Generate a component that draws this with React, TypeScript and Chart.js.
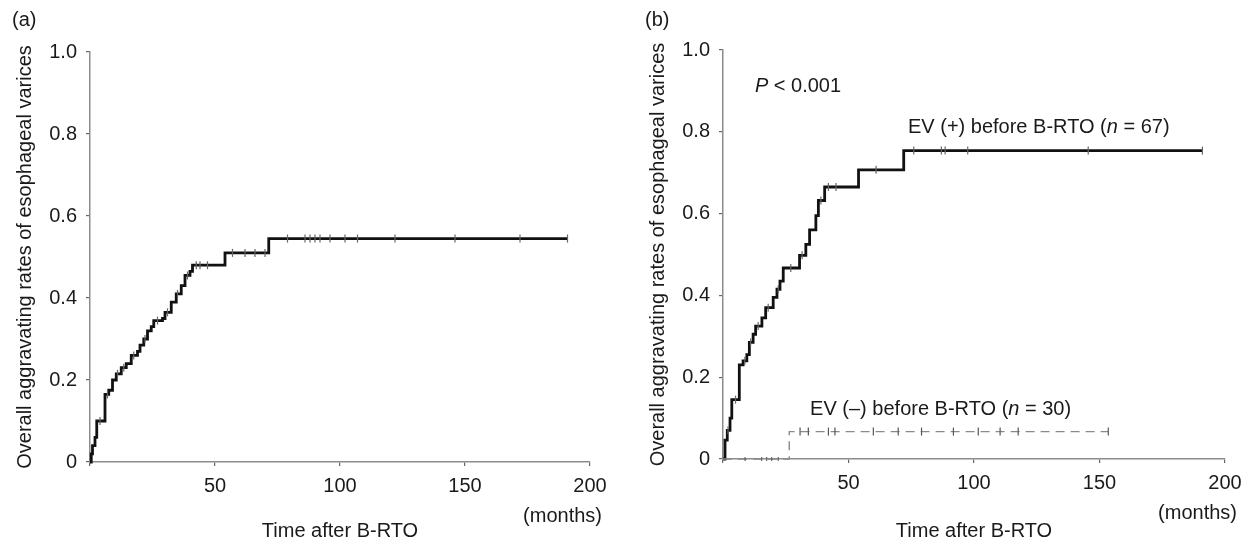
import React, { useEffect, useRef } from 'react';
import { Chart, registerables } from 'chart.js';

Chart.register(...registerables);

const FONT = '"Liberation Sans", Arial, Helvetica, sans-serif';
const FS = 20;

// ---------- axis ticks ----------
const yTickValues = [0, 0.2, 0.4, 0.6, 0.8, 1.0];
const yTickLabels = ['0', '0.2', '0.4', '0.6', '0.8', '1.0'];
const xTickValues = [0, 50, 100, 150, 200];
const xTickLabels = ['', '50', '100', '150', '200'];

// ---------- panel (a): all patients ----------
const aTimes = [0, 0.5, 1, 2, 2.7, 6, 7.5, 9, 10.5, 12.5, 14.5, 16.5, 19, 20, 21.5, 23, 24.5, 25.5, 29, 30, 32.5, 34.5, 36.5, 38, 40, 41, 54, 71.5, 191];
const aRates = [0, 0.02, 0.04, 0.06, 0.1, 0.165, 0.175, 0.2, 0.215, 0.23, 0.24, 0.26, 0.27, 0.285, 0.3, 0.32, 0.33, 0.345, 0.35, 0.365, 0.39, 0.41, 0.43, 0.455, 0.465, 0.48, 0.51, 0.545, 0.545];
const aCensorTimes = [4, 7, 11, 13.5, 17.5, 22, 27, 31, 35, 39, 42.5, 44, 47, 57, 62, 66, 70, 79, 86, 88, 90, 92, 96, 102, 107, 122, 146, 172, 191];
const aCensorRates = [0.1, 0.165, 0.215, 0.23, 0.26, 0.3, 0.345, 0.365, 0.41, 0.455, 0.48, 0.48, 0.48, 0.51, 0.51, 0.51, 0.51, 0.545, 0.545, 0.545, 0.545, 0.545, 0.545, 0.545, 0.545, 0.545, 0.545, 0.545, 0.545];

// ---------- panel (b): EV (+) ----------
const bPosTimes = [0, 0.8, 1.7, 2.8, 3.5, 6.5, 8, 9.5, 10.5, 12, 13, 15.5, 17, 20, 21.5, 22.7, 24, 30.5, 33, 34.5, 37, 38, 40.5, 54, 72, 191];
const bPosRates = [0, 0.046, 0.07, 0.1, 0.145, 0.23, 0.24, 0.255, 0.285, 0.305, 0.325, 0.345, 0.37, 0.395, 0.415, 0.435, 0.467, 0.498, 0.525, 0.56, 0.595, 0.632, 0.665, 0.707, 0.754, 0.754];
const bPosCensorTimes = [2, 5, 8.7, 11, 14, 18, 22, 27, 31.5, 39, 42, 45, 61, 76, 87, 88.5, 97.5, 145.5, 191];
const bPosCensorRates = [0.07, 0.145, 0.24, 0.285, 0.325, 0.37, 0.415, 0.467, 0.498, 0.632, 0.665, 0.665, 0.707, 0.754, 0.754, 0.754, 0.754, 0.754, 0.754];

// ---------- panel (b): EV (-) ----------
const bNegTimes = [0, 26.4, 153.4];
const bNegRates = [0, 0.067, 0.067];
const bNegCensorTimes = [30.7, 34, 42, 44.6, 59.9, 69.8, 79.1, 91.8, 101.7, 110.4, 117.6, 153.5];
const bNegCensorRates = [0.067, 0.067, 0.067, 0.067, 0.067, 0.067, 0.067, 0.067, 0.067, 0.067, 0.067, 0.067];
const bNegZeroCensorTimes = [8.8, 15.4, 17.4, 19.4, 22];
const bNegZeroCensorRates = [0, 0, 0, 0, 0];

const Y_TITLE = 'Overall aggravating rates of esophageal varices';
const X_TITLE = 'Time after B-RTO';
const X_UNIT = '(months)';

type Part = { text: string; italic?: boolean };
type Note = { t: number; v: number; parts: Part[] };

const toXY = (xs: number[], ys: number[]) => xs.map((x, i) => ({ x, y: ys[i] }));

function drawRich(ctx: CanvasRenderingContext2D, x: number, y: number, parts: Part[]) {
  let cx = x;
  for (const p of parts) {
    ctx.font = `${p.italic ? 'italic ' : ''}${FS}px ${FONT}`;
    ctx.fillText(p.text, cx, y);
    cx += ctx.measureText(p.text).width;
  }
}

const textPlugin = {
  id: 'panelText',
  afterDraw(chart: any, _args: any, opts: any) {
    const { ctx, chartArea, scales } = chart;
    ctx.save();
    ctx.fillStyle = '#1a1a1a';
    ctx.textBaseline = 'middle';
    ctx.font = `${FS}px ${FONT}`;
    // panel letter
    ctx.textAlign = 'left';
    ctx.fillText(opts.letter, opts.letterX, 20);
    // y title
    ctx.save();
    ctx.translate(chartArea.left - 65, (chartArea.top + chartArea.bottom) / 2);
    ctx.rotate(-Math.PI / 2);
    ctx.textAlign = 'center';
    ctx.fillText(Y_TITLE, 0, 0);
    ctx.restore();
    // x unit
    ctx.textAlign = 'right';
    ctx.fillText(X_UNIT, chartArea.right + 12, chartArea.bottom + 54);
    // x title
    ctx.textAlign = 'center';
    ctx.fillText(X_TITLE, (chartArea.left + chartArea.right) / 2, 531);
    // notes
    ctx.textAlign = 'left';
    for (const n of (opts.notes || []) as Note[]) {
      drawRich(ctx, scales.x.getPixelForValue(n.t), scales.y.getPixelForValue(n.v), n.parts);
    }
    ctx.restore();
  },
};

function lineDs(xs: number[], ys: number[], color: string, width: number, dash: number[] = []) {
  return {
    type: 'line',
    data: toXY(xs, ys),
    borderColor: color,
    borderWidth: width,
    borderDash: dash,
    stepped: true,
    pointRadius: 0,
    fill: false,
    clip: false,
    order: 2,
  };
}

function censorDs(xs: number[], ys: number[], color: string, r: number) {
  return {
    type: 'scatter',
    data: toXY(xs, ys),
    pointStyle: 'line',
    rotation: 90,
    pointRadius: r,
    pointBorderColor: color,
    borderColor: color,
    pointBorderWidth: 1.2,
    clip: false,
    order: 1,
  };
}

function makeOptions(pad: { right: number; top: number }, yWidth: number, xHeight: number, plugOpts: any) {
  return {
    responsive: false,
    animation: false,
    events: [],
    layout: { padding: { left: 0, right: pad.right, top: pad.top, bottom: 0 } },
    plugins: {
      legend: { display: false },
      tooltip: { enabled: false },
      panelText: plugOpts,
    },
    scales: {
      x: {
        type: 'linear',
        min: 0,
        max: 200,
        afterFit: (s: any) => { s.height = xHeight; },
        afterBuildTicks: (s: any) => { s.ticks = xTickValues.map((value) => ({ value })); },
        ticks: {
          callback: (v: number) => xTickLabels[xTickValues.indexOf(v)] ?? '',
          font: { family: FONT, size: FS },
          color: '#1a1a1a',
          padding: 8,
          maxRotation: 0,
          autoSkip: false,
        },
        grid: { drawOnChartArea: false, drawTicks: true, tickLength: 4, color: '#666', lineWidth: 1.2 },
        border: { display: true, color: '#8c8c8c', width: 1.5 },
      },
      y: {
        type: 'linear',
        min: 0,
        max: 1,
        afterFit: (s: any) => { s.width = yWidth; },
        afterBuildTicks: (s: any) => { s.ticks = yTickValues.map((value) => ({ value })); },
        ticks: {
          callback: (v: number) => yTickLabels[yTickValues.findIndex((t) => Math.abs(t - v) < 1e-9)] ?? '',
          font: { family: FONT, size: FS },
          color: '#1a1a1a',
          padding: 9,
          autoSkip: false,
        },
        grid: { drawOnChartArea: false, drawTicks: true, tickLength: 4, color: '#666', lineWidth: 1.2 },
        border: { display: true, color: '#8c8c8c', width: 1.5 },
      },
    },
  };
}

export default function App() {
  const refA = useRef<HTMLCanvasElement>(null);
  const refB = useRef<HTMLCanvasElement>(null);

  useEffect(() => {
    const chartA = new Chart(refA.current as HTMLCanvasElement, {
      type: 'scatter',
      data: {
        datasets: [
          lineDs(aTimes, aRates, '#111', 2.8),
          censorDs(aCensorTimes, aCensorRates, '#666', 4),
        ] as any,
      },
      options: makeOptions({ right: 40, top: 52 }, 90, 83, { letter: '(a)', letterX: 12, notes: [] }) as any,
      plugins: [textPlugin],
    });

    const notesB: Note[] = [
      { t: 12.7, v: 0.912, parts: [{ text: 'P', italic: true }, { text: ' < 0.001' }] },
      { t: 73.7, v: 0.81, parts: [{ text: 'EV (+) before B-RTO (' }, { text: 'n', italic: true }, { text: ' = 67)' }] },
      { t: 34.7, v: 0.12, parts: [{ text: 'EV (–) before B-RTO (' }, { text: 'n', italic: true }, { text: ' = 30)' }] },
    ];

    const chartB = new Chart(refB.current as HTMLCanvasElement, {
      type: 'scatter',
      data: {
        datasets: [
          lineDs(bNegTimes, bNegRates, '#8a8a8a', 1.4, [9, 6]),
          lineDs(bPosTimes, bPosRates, '#111', 2.8),
          censorDs(bPosCensorTimes, bPosCensorRates, '#666', 4),
          censorDs(bNegCensorTimes, bNegCensorRates, '#555', 4),
          censorDs(bNegZeroCensorTimes, bNegZeroCensorRates, '#666', 2),
        ] as any,
      },
      options: makeOptions({ right: 28, top: 50 }, 93, 86, { letter: '(b)', letterX: 15, notes: notesB }) as any,
      plugins: [textPlugin],
    });

    return () => {
      chartA.destroy();
      chartB.destroy();
    };
  }, []);

  return (
    <div style={{ position: 'absolute', left: 0, top: 0, width: 1253, height: 545, background: '#fff' }}>
      <canvas ref={refA} width={630} height={545} style={{ position: 'absolute', left: 0, top: 0 }} />
      <canvas ref={refB} width={623} height={545} style={{ position: 'absolute', left: 630, top: 0 }} />
    </div>
  );
}
